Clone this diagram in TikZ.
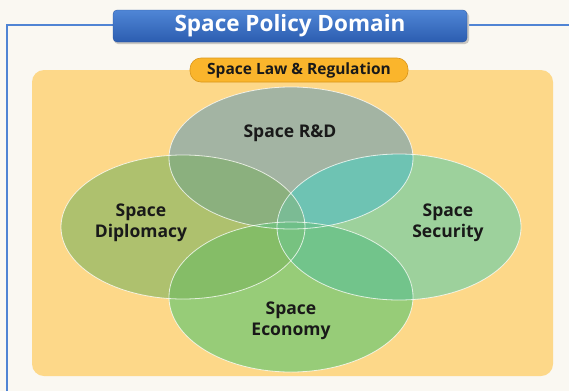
\documentclass[tikz,border=0pt]{standalone}
\usepackage{fontspec}
\setmainfont{Open Sans}

% region colours of the four-set diagram
\definecolor{bgpage}{HTML}{FAF8F2}
\definecolor{framebl}{RGB}{80,132,212}
\definecolor{lawbg}{HTML}{FDD889}
\definecolor{pillfill}{HTML}{FAB52C}
\definecolor{pilldraw}{HTML}{D9961A}
\definecolor{titletop}{HTML}{4F86D6}
\definecolor{titlebot}{HTML}{2C5DB0}
\definecolor{shadowgr}{HTML}{C9C7C2}
\definecolor{cR}{HTML}{A3B4A3}
\definecolor{cD}{HTML}{AEC16E}
\definecolor{cS}{HTML}{9DD19C}
\definecolor{cE}{HTML}{97CC78}
\definecolor{cRD}{HTML}{8BB07E}
\definecolor{cRS}{HTML}{6EC3B3}
\definecolor{cDE}{HTML}{85BD67}
\definecolor{cSE}{HTML}{72C48B}
\definecolor{cDS}{HTML}{78C08C}
\definecolor{cRE}{HTML}{6FC083}
\definecolor{cRDS}{HTML}{7BBB94}
\definecolor{cRDE}{HTML}{74BE7C}
\definecolor{cRSE}{HTML}{6BC193}
\definecolor{cDSE}{HTML}{77C280}
\definecolor{cAll}{HTML}{6FBF88}

\newcommand\shR{(291,158) ellipse [x radius=122, y radius=71]}
\newcommand\shD{(183,227) ellipse [x radius=122, y radius=72]}
\newcommand\shS{(399,227) ellipse [x radius=122, y radius=73]}
\newcommand\shE{(291,297) ellipse [x radius=122, y radius=75]}

\tikzset{
  setlabel/.style={font=\fontsize{17.5}{21}\selectfont\bfseries, text=black!90, align=center},
  rim/.style={draw=white, draw opacity=0.75, line width=0.8pt},
  frameline/.style={draw=framebl, line width=1.2pt},
}

\begin{document}
\begin{tikzpicture}[x=1pt,y=-1pt]
  \useasboundingbox (0,0) rectangle (569,391);
  \fill[bgpage] (0,0) rectangle (569,391);

  % outer frame
  \coordinate (fbl) at (7,391);
  \coordinate (ftl) at (7,25);
  \coordinate (ftr) at (569,25);
  \path[frameline] (fbl) -- (ftl) -- (ftr);

  % law & regulation panel
  \fill[lawbg, rounded corners=12pt] (32,70) rectangle (553,376);

  % single sets
  \fill[cR] \shR;
  \fill[cD] \shD;
  \fill[cS] \shS;
  \fill[cE] \shE;

  % pairwise overlaps
  \begin{scope}\clip \shR; \fill[cRD] \shD; \end{scope}
  \begin{scope}\clip \shR; \fill[cRS] \shS; \end{scope}
  \begin{scope}\clip \shD; \fill[cDE] \shE; \end{scope}
  \begin{scope}\clip \shS; \fill[cSE] \shE; \end{scope}
  \begin{scope}\clip \shD; \fill[cDS] \shS; \end{scope}
  \begin{scope}\clip \shR; \fill[cRE] \shE; \end{scope}

  % triple overlaps
  \begin{scope}\clip \shR; \clip \shD; \fill[cRDS] \shS; \end{scope}
  \begin{scope}\clip \shR; \clip \shD; \fill[cRDE] \shE; \end{scope}
  \begin{scope}\clip \shR; \clip \shS; \fill[cRSE] \shE; \end{scope}
  \begin{scope}\clip \shD; \clip \shS; \fill[cDSE] \shE; \end{scope}

  % all four
  \begin{scope}\clip \shR; \clip \shD; \clip \shS; \fill[cAll] \shE; \end{scope}

  % white rims
  \path[rim] \shR;
  \path[rim] \shD;
  \path[rim] \shS;
  \path[rim] \shE;

  % set labels
  \node[setlabel] (rnd) at (290,133) {Space R\&D};
  \node[setlabel] (dip) at (141,223) {Space\\Diplomacy};
  \node[setlabel] (sec) at (448,223) {Space\\Security};
  \node[setlabel] (eco) at (291,321) {Space\\Economy};

  % title banner with a soft offset shadow
  \fill[shadowgr, rounded corners=4pt] (114,12) rectangle (469,44);
  \node[draw=titlebot!90!black, line width=0.3pt, rounded corners=4pt,
        top color=titletop, bottom color=titlebot,
        minimum width=354pt, minimum height=32pt, inner sep=0pt,
        text=white, font=\fontsize{22.5}{27}\selectfont\bfseries] (title) at (290,26)
        {Space Policy Domain};

  % law & regulation pill
  \node[draw=pilldraw, fill=pillfill, line width=0.6pt, rounded corners=11pt,
        minimum width=218pt, minimum height=24pt, inner sep=0pt,
        font=\fontsize{15.5}{18}\selectfont\bfseries, text=black!90] (law) at (299,70)
        {Space Law \& Regulation};
\end{tikzpicture}
\end{document}
